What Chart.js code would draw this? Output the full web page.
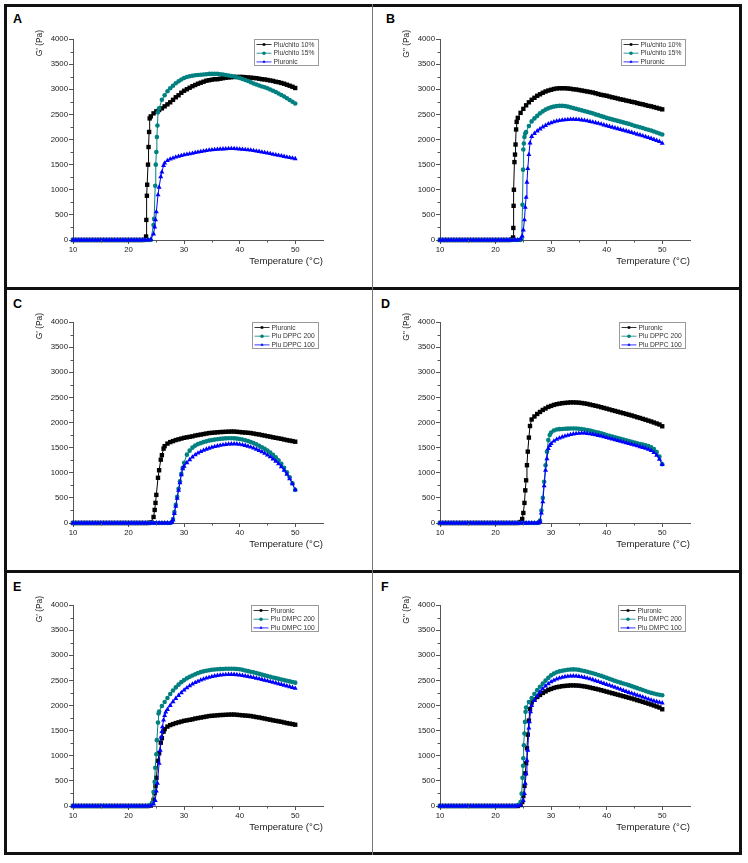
<!DOCTYPE html>
<html>
<head>
<meta charset="utf-8">
<script src="https://cdn.jsdelivr.net/npm/chart.js@4.4.1/dist/chart.umd.min.js"></script>
<style>
  html, body { margin: 0; padding: 0; background: #fff; }
  body { width: 748px; height: 863px; position: relative; overflow: hidden; font-family: "Liberation Sans", Arial, sans-serif; }
  .frame { position: absolute; left: 4px; top: 4px; width: 732px; height: 845px; border: 3px solid #111; }
  .hline { position: absolute; left: 4px; width: 738px; height: 3px; background: #111; }
  .vline { position: absolute; left: 372px; top: 4px; width: 1px; height: 851px; background: #777; }
  .letter { position: absolute; font-weight: bold; font-size: 12.5px; line-height: 12px; color: #000; }
  canvas { position: absolute; }
</style>
</head>
<body>
<div class="frame"></div>
<div class="hline" style="top:287px"></div>
<div class="hline" style="top:570px"></div>
<div class="vline"></div>
<div class="letter" style="left:13px;top:13.4px">A</div>
<div class="letter" style="left:386px;top:13.4px">B</div>
<div class="letter" style="left:13px;top:298.4px">C</div>
<div class="letter" style="left:381px;top:298.4px">D</div>
<div class="letter" style="left:13px;top:581.4px">E</div>
<div class="letter" style="left:381px;top:581.4px">F</div>
<canvas id="cA" width="366" height="283" style="left:7px;top:5px"></canvas>
<canvas id="cB" width="366" height="283" style="left:374px;top:5px"></canvas>
<canvas id="cC" width="366" height="283" style="left:7px;top:288px"></canvas>
<canvas id="cD" width="366" height="283" style="left:374px;top:288px"></canvas>
<canvas id="cE" width="366" height="283" style="left:7px;top:571px"></canvas>
<canvas id="cF" width="366" height="283" style="left:374px;top:571px"></canvas>
<script>
// ---------------- DATA ----------------
const xTicks = [10, 20, 30, 40, 50];
const xMinor = [15, 25, 35, 45];
const yTicks = [0, 500, 1000, 1500, 2000, 2500, 3000, 3500, 4000];
const yMinor = [250, 750, 1250, 1750, 2250, 2750, 3250, 3750];
const xTitle = 'Temperature (°C)';
const yTitleGp = "G' (Pa)";
const yTitleGpp = 'G" (Pa)';

// temperatures before gelation (all samples ~0 Pa)
const preGelT = [10, 10.5, 11, 11.5, 12, 12.5, 13, 13.5, 14, 14.5, 15, 15.5, 16, 16.5, 17, 17.5, 18, 18.5, 19, 19.5, 20, 20.5, 21, 21.5, 22, 22.5];
const preGelG = [0, 0, 0, 0, 0, 0, 0, 0, 0, 0, 0, 0, 0, 0, 0, 0, 0, 0, 0, 0, 0, 0, 0, 0, 0, 0];
// temperatures from 23 to 50 °C
const gelT = [23, 23.5, 24, 24.5, 25, 25.5, 26, 26.5, 27, 27.5,
              28, 28.5, 29, 29.5, 30, 30.5, 31, 31.5, 32, 32.5,
              33, 33.5, 34, 34.5, 35, 35.5, 36, 36.5, 37, 37.5,
              38, 38.5, 39, 39.5, 40, 40.5, 41, 41.5, 42, 42.5,
              43, 43.5, 44, 44.5, 45, 45.5, 46, 46.5, 47, 47.5,
              48, 48.5, 49, 49.5, 50];

// Pluronic G'
const pluronicGp = [0, 0, 10, 120, 560, 1050, 1350, 1530, 1580, 1610,
  1630, 1650, 1665, 1680, 1695, 1705, 1715, 1725, 1740, 1750,
  1760, 1770, 1780, 1790, 1795, 1800, 1805, 1810, 1812, 1815,
  1818, 1820, 1820, 1815, 1810, 1805, 1800, 1795, 1790, 1780,
  1770, 1762, 1750, 1740, 1728, 1718, 1705, 1695, 1685, 1675,
  1662, 1650, 1640, 1630, 1618];
const pluronicGpExtraT = [24.7, 24.85, 25.3, 25.8, 26.3];
const pluronicGpExtraG = [260, 400, 900, 1260, 1480];

// Pluronic G''
const pluronicGpp = [0, 0, 0, 20, 200, 850, 1700, 2060, 2120, 2170,
  2210, 2250, 2280, 2310, 2330, 2350, 2365, 2375, 2385, 2390,
  2395, 2400, 2400, 2398, 2395, 2388, 2380, 2370, 2358, 2345,
  2333, 2320, 2305, 2290, 2275, 2260, 2245, 2230, 2215, 2200,
  2185, 2170, 2155, 2140, 2123, 2105, 2090, 2072, 2055, 2037,
  2020, 2000, 1980, 1960, 1925];
const pluronicGppExtraT = [24.8, 25.2, 25.35, 25.65, 25.8, 26.2];
const pluronicGppExtraG = [80, 400, 650, 1150, 1420, 1930];

// Plu/chito 10% G'
const chito10Gp = [5, 1500, 2460, 2520, 2560, 2590, 2620, 2660, 2700, 2740,
  2790, 2840, 2880, 2930, 2970, 3000, 3030, 3060, 3085, 3110,
  3130, 3150, 3170, 3180, 3190, 3200, 3200, 3210, 3220, 3230,
  3235, 3240, 3245, 3245, 3245, 3245, 3240, 3235, 3230, 3225,
  3220, 3210, 3200, 3195, 3185, 3175, 3165, 3150, 3140, 3125,
  3110, 3090, 3070, 3050, 3025];
const chito10GpExtraT = [23.15, 23.2, 23.3, 23.35, 23.6, 23.7, 23.8];
const chito10GpExtraG = [70, 400, 880, 1100, 1850, 2150, 2420];

// Plu/chito 15% G'
const chito15Gp = [0, 0, 0, 300, 1750, 2620, 2790, 2880, 2960, 3020,
  3070, 3120, 3160, 3195, 3225, 3245, 3260, 3270, 3280, 3285,
  3290, 3295, 3300, 3305, 3305, 3305, 3305, 3300, 3295, 3285,
  3275, 3265, 3255, 3240, 3225, 3205, 3185, 3165, 3140, 3115,
  3095, 3075, 3055, 3040, 3020, 2995, 2970, 2945, 2915, 2885,
  2855, 2820, 2785, 2750, 2715];
const chito15GpExtraT = [24.6, 24.8, 24.9, 25.1, 25.2, 25.3];
const chito15GpExtraG = [420, 1080, 1500, 2050, 2280, 2540];

// Plu/chito 10% G''
const chito10Gpp = [10, 1700, 2430, 2530, 2610, 2680, 2740, 2790, 2830, 2870,
  2900, 2930, 2955, 2975, 2990, 3005, 3015, 3020, 3020, 3020,
  3015, 3010, 3000, 2995, 2985, 2975, 2965, 2955, 2945, 2935,
  2920, 2905, 2890, 2880, 2870, 2855, 2840, 2828, 2815, 2800,
  2790, 2775, 2765, 2750, 2740, 2725, 2710, 2700, 2685, 2670,
  2660, 2645, 2630, 2615, 2600];
const chito10GppExtraT = [23.15, 23.2, 23.25, 23.3, 23.4, 23.6, 23.7, 23.8];
const chito10GppExtraG = [50, 240, 680, 1000, 1550, 1900, 2200, 2350];

// Plu/chito 15% G''
const chito15Gpp = [0, 0, 0, 0, 1800, 2150, 2270, 2360, 2420, 2470,
  2520, 2560, 2595, 2620, 2640, 2655, 2665, 2670, 2670, 2665,
  2655, 2640, 2625, 2610, 2595, 2580, 2565, 2550, 2535, 2520,
  2500, 2485, 2465, 2450, 2430, 2415, 2400, 2385, 2370, 2355,
  2340, 2325, 2310, 2295, 2275, 2260, 2245, 2230, 2210, 2195,
  2180, 2160, 2140, 2120, 2100];
const chito15GppExtraT = [24.7, 24.85, 24.95, 25.1, 25.2, 25.35];
const chito15GppExtraG = [30, 700, 1400, 1920, 2050, 2120];

// Plu DPPC 200 G'
const dppc200Gp = [0, 0, 0, 0, 0, 0, 0, 0, 0, 0,
  80, 360, 680, 980, 1200, 1360, 1440, 1500, 1540, 1570,
  1590, 1610, 1625, 1640, 1650, 1660, 1668, 1675, 1680, 1685,
  1688, 1688, 1685, 1680, 1672, 1662, 1648, 1632, 1612, 1590,
  1565, 1538, 1508, 1475, 1440, 1400, 1355, 1305, 1250, 1180,
  1100, 1010, 910, 790, 660];
const dppc200GpExtraT = [27.8, 28.25, 28.75, 29.25, 29.75];
const dppc200GpExtraG = [20, 220, 520, 830, 1100];

// Plu DPPC 100 G'
const dppc100Gp = [0, 0, 0, 0, 0, 0, 0, 0, 0, 0,
  60, 330, 650, 960, 1130, 1200, 1260, 1310, 1355, 1390,
  1420, 1445, 1468, 1488, 1505, 1520, 1533, 1545, 1555, 1563,
  1570, 1573, 1575, 1572, 1565, 1555, 1543, 1528, 1510, 1490,
  1468, 1443, 1415, 1385, 1352, 1315, 1275, 1230, 1180, 1120,
  1050, 970, 880, 780, 660];
const dppc100GpExtraT = [27.8, 28.25, 28.75, 29.25, 29.75];
const dppc100GpExtraG = [15, 190, 490, 800, 1080];

// Plu DPPC 200 G''
const dppc200Gpp = [0, 0, 0, 0, 0, 0, 0, 0, 0, 0,
  50, 500, 1150, 1650, 1800, 1840, 1860, 1868, 1872, 1876,
  1878, 1880, 1882, 1880, 1876, 1870, 1860, 1850, 1838, 1825,
  1812, 1798, 1783, 1768, 1752, 1736, 1720, 1705, 1690, 1675,
  1660, 1645, 1630, 1615, 1600, 1585, 1572, 1560, 1548, 1530,
  1505, 1470, 1410, 1320, 1170];
const dppc200GppExtraT = [27.8, 28.25, 28.75, 29.25, 29.75];
const dppc200GppExtraG = [10, 250, 820, 1420, 1750];

// Plu DPPC 100 G''
const dppc100Gpp = [0, 0, 0, 0, 0, 0, 0, 0, 0, 0,
  30, 420, 1050, 1480, 1580, 1630, 1665, 1690, 1712, 1730,
  1745, 1760, 1772, 1780, 1785, 1788, 1788, 1782, 1775, 1765,
  1755, 1742, 1728, 1714, 1700, 1685, 1670, 1655, 1640, 1625,
  1610, 1595, 1580, 1565, 1550, 1535, 1518, 1502, 1485, 1465,
  1440, 1400, 1345, 1270, 1165];
const dppc100GppExtraT = [27.8, 28.25, 28.75, 29.25, 29.75];
const dppc100GppExtraG = [5, 200, 740, 1280, 1540];

// Plu DMPC 200 G'
const dmpc200Gp = [0, 0, 20, 280, 1030, 1880, 1990, 2070, 2150, 2230,
  2300, 2360, 2415, 2465, 2505, 2540, 2570, 2598, 2622, 2645,
  2665, 2680, 2692, 2702, 2710, 2716, 2720, 2724, 2727, 2730,
  2732, 2732, 2730, 2726, 2720, 2710, 2698, 2685, 2672, 2660,
  2645, 2630, 2615, 2600, 2585, 2572, 2558, 2545, 2530, 2518,
  2505, 2492, 2480, 2468, 2455];
const dmpc200GpExtraT = [24.2, 24.7, 24.8, 25.1, 25.3, 25.4];
const dmpc200GpExtraG = [60, 480, 760, 1310, 1660, 1840];

// Plu DMPC 100 G'
const dmpc100Gp = [0, 0, 5, 40, 300, 850, 1480, 1800, 1920, 2000,
  2075, 2140, 2200, 2255, 2305, 2350, 2390, 2425, 2455, 2482,
  2505, 2525, 2545, 2560, 2575, 2587, 2597, 2605, 2610, 2615,
  2618, 2618, 2617, 2612, 2605, 2597, 2588, 2578, 2568, 2556,
  2543, 2530, 2517, 2503, 2490, 2476, 2462, 2448, 2433, 2418,
  2403, 2388, 2373, 2358, 2340];
const dmpc100GpExtraT = [24.8, 25.2, 25.7, 25.9, 26.1, 26.3, 26.7];
const dmpc100GpExtraG = [110, 450, 1110, 1375, 1575, 1708, 1870];

// Plu DMPC 200 G''
const dmpc200Gpp = [0, 0, 20, 80, 950, 1960, 2070, 2150, 2230, 2305,
  2372, 2435, 2495, 2550, 2600, 2635, 2662, 2680, 2692, 2702,
  2710, 2715, 2718, 2715, 2708, 2698, 2686, 2672, 2658, 2642,
  2626, 2608, 2590, 2570, 2550, 2530, 2510, 2490, 2472, 2455,
  2438, 2422, 2405, 2385, 2365, 2345, 2326, 2308, 2290, 2270,
  2252, 2238, 2224, 2214, 2205];
const dmpc200GppExtraT = [24.7, 24.85, 24.95, 25.1, 25.2, 25.3, 25.4];
const dmpc200GppExtraG = [246, 560, 800, 1209, 1442, 1674, 1874];

// Plu DMPC 100 G''
const dmpc100Gpp = [0, 0, 0, 20, 110, 640, 1550, 2000, 2100, 2190,
  2270, 2330, 2385, 2432, 2470, 2500, 2525, 2545, 2560, 2572,
  2580, 2585, 2587, 2585, 2578, 2570, 2558, 2545, 2530, 2512,
  2493, 2475, 2456, 2438, 2419, 2400, 2380, 2360, 2340, 2320,
  2300, 2280, 2260, 2242, 2224, 2205, 2186, 2166, 2146, 2126,
  2106, 2090, 2075, 2063, 2050];
const dmpc100GppExtraT = [25.2, 25.35, 25.65, 25.8, 26.1, 26.3];
const dmpc100GppExtraG = [246, 450, 910, 1110, 1674, 1874];

const legendA = ['Plu/chito 10%', 'Plu/chito 15%', 'Pluronic'];
const legendC = ['Pluronic', 'Plu DPPC 200', 'Plu DPPC 100'];
const legendE = ['Pluronic', 'Plu DMPC 200', 'Plu DMPC 100'];

// ---------------- STYLE ----------------
const FONT = '"Liberation Sans", Arial, Helvetica, sans-serif';
const AXIS = '#555';
const seriesStyle = [
  { color: '#000000', pointStyle: 'rect', radius: 3.1 },
  { color: '#008080', pointStyle: 'circle', radius: 2.3 },
  { color: '#0000ff', pointStyle: 'triangle', radius: 2.9 }
];

function buildSeries(grid, exT, exG) {
  const pts = [];
  preGelT.forEach((t, i) => pts.push({ x: t, y: preGelG[i] }));
  gelT.forEach((t, i) => pts.push({ x: t, y: grid[i] }));
  exT.forEach((t, i) => pts.push({ x: t, y: exG[i] }));
  pts.sort((a, b) => a.x - b.x);
  return pts;
}

const panels = [
  { id: 'cA', yTitle: yTitleGp, labels: legendA, series: [
    [chito10Gp, chito10GpExtraT, chito10GpExtraG],
    [chito15Gp, chito15GpExtraT, chito15GpExtraG],
    [pluronicGp, pluronicGpExtraT, pluronicGpExtraG]] },
  { id: 'cB', yTitle: yTitleGpp, labels: legendA, series: [
    [chito10Gpp, chito10GppExtraT, chito10GppExtraG],
    [chito15Gpp, chito15GppExtraT, chito15GppExtraG],
    [pluronicGpp, pluronicGppExtraT, pluronicGppExtraG]] },
  { id: 'cC', yTitle: yTitleGp, labels: legendC, series: [
    [pluronicGp, pluronicGpExtraT, pluronicGpExtraG],
    [dppc200Gp, dppc200GpExtraT, dppc200GpExtraG],
    [dppc100Gp, dppc100GpExtraT, dppc100GpExtraG]] },
  { id: 'cD', yTitle: yTitleGpp, labels: legendC, series: [
    [pluronicGpp, pluronicGppExtraT, pluronicGppExtraG],
    [dppc200Gpp, dppc200GppExtraT, dppc200GppExtraG],
    [dppc100Gpp, dppc100GppExtraT, dppc100GppExtraG]] },
  { id: 'cE', yTitle: yTitleGp, labels: legendE, series: [
    [pluronicGp, pluronicGpExtraT, pluronicGpExtraG],
    [dmpc200Gp, dmpc200GpExtraT, dmpc200GpExtraG],
    [dmpc100Gp, dmpc100GpExtraT, dmpc100GpExtraG]] },
  { id: 'cF', yTitle: yTitleGpp, labels: legendE, series: [
    [pluronicGpp, pluronicGppExtraT, pluronicGppExtraG],
    [dmpc200Gpp, dmpc200GppExtraT, dmpc200GppExtraG],
    [dmpc100Gpp, dmpc100GppExtraT, dmpc100GppExtraG]] }
];

// ---------------- PLUGINS ----------------
function drawMarker(ctx, style, x, y, r) {
  ctx.beginPath();
  if (style === 'rect') {
    const s = r * Math.SQRT1_2;
    ctx.rect(x - s, y - s, 2 * s, 2 * s);
  } else if (style === 'triangle') {
    ctx.moveTo(x, y - r);
    ctx.lineTo(x + r * 0.866, y + r * 0.5);
    ctx.lineTo(x - r * 0.866, y + r * 0.5);
    ctx.closePath();
  } else {
    ctx.arc(x, y, r, 0, Math.PI * 2);
  }
  ctx.fill();
}

const minorTicks = {
  id: 'minorTicks',
  afterDraw(chart) {
    const { ctx, chartArea, scales } = chart;
    ctx.save();
    ctx.strokeStyle = AXIS;
    ctx.lineWidth = 1;
    ctx.beginPath();
    xMinor.forEach(v => {
      const px = Math.round(scales.x.getPixelForValue(v)) + 0.5;
      ctx.moveTo(px, chartArea.bottom);
      ctx.lineTo(px, chartArea.bottom + 2.5);
    });
    yMinor.forEach(v => {
      const py = Math.round(scales.y.getPixelForValue(v)) + 0.5;
      ctx.moveTo(chartArea.left, py);
      ctx.lineTo(chartArea.left - 2.5, py);
    });
    ctx.stroke();
    ctx.restore();
  }
};

const yTitlePlugin = {
  id: 'yTitle',
  afterDraw(chart, args, opts) {
    const { ctx, chartArea } = chart;
    ctx.save();
    ctx.translate(chartArea.left - 33, chartArea.top - 9);
    ctx.rotate(-Math.PI / 2);
    ctx.font = '8.4px ' + FONT;
    ctx.fillStyle = '#222';
    ctx.textAlign = 'right';
    ctx.textBaseline = 'middle';
    ctx.fillText(opts.text, 0, 0);
    ctx.restore();
  }
};

const boxLegend = {
  id: 'boxLegend',
  afterDraw(chart) {
    const { ctx, chartArea } = chart;
    const ds = chart.data.datasets;
    ctx.save();
    ctx.font = '6.7px ' + FONT;
    const tw = Math.max(...ds.map(d => ctx.measureText(d.label).width));
    const w = Math.round(19 + tw + 4);
    const rowH = 8.7;
    const h = 26;
    const x0 = Math.round(chartArea.right - 5 - w) + 0.5;
    const y0 = Math.round(chartArea.top) + 0.5;
    ctx.fillStyle = '#fff';
    ctx.fillRect(x0, y0, w, h);
    ctx.strokeStyle = '#9a9a9a';
    ctx.lineWidth = 1;
    ctx.strokeRect(x0, y0, w, h);
    ds.forEach((d, i) => {
      const cy = y0 + 5 + i * rowH;
      ctx.strokeStyle = d.borderColor;
      ctx.lineWidth = 0.8;
      ctx.beginPath();
      ctx.moveTo(x0 + 2, cy);
      ctx.lineTo(x0 + 17, cy);
      ctx.stroke();
      ctx.fillStyle = d.borderColor;
      drawMarker(ctx, d.pointStyle, x0 + 9.5, cy, 1.8);
      ctx.fillStyle = '#333';
      ctx.textAlign = 'left';
      ctx.textBaseline = 'middle';
      ctx.fillText(d.label, x0 + 19, cy + 0.3);
    });
    ctx.restore();
  }
};

// ---------------- CHARTS ----------------
panels.forEach(p => {
  const datasets = p.series.map((s, i) => ({
    label: p.labels[i],
    data: buildSeries(s[0], s[1], s[2]),
    showLine: true,
    borderColor: seriesStyle[i].color,
    backgroundColor: seriesStyle[i].color,
    borderWidth: 1,
    pointStyle: seriesStyle[i].pointStyle,
    pointRadius: seriesStyle[i].radius,
    pointBorderWidth: 0,
    pointBackgroundColor: seriesStyle[i].color,
    tension: 0,
    clip: false,
    order: 2 - i
  }));
  new Chart(document.getElementById(p.id), {
    type: 'scatter',
    data: { datasets },
    plugins: [minorTicks, yTitlePlugin, boxLegend],
    options: {
      responsive: false,
      maintainAspectRatio: false,
      animation: false,
      events: [],
      layout: { padding: { left: 26, top: 34, right: 50, bottom: 13 } },
      plugins: {
        legend: { display: false },
        tooltip: { enabled: false },
        title: { display: false },
        yTitle: { text: p.yTitle }
      },
      scales: {
        x: {
          type: 'linear', min: 10, max: 55,
          afterBuildTicks: sc => { sc.ticks = xTicks.map(v => ({ value: v })); },
          afterFit: sc => { sc.height = 35; },
          ticks: { color: '#222', font: { size: 7.8, family: FONT }, padding: 1, maxRotation: 0, autoSkip: false,
                   callback: v => String(v) },
          grid: { drawOnChartArea: false, drawTicks: true, tickLength: 4, tickColor: AXIS },
          border: { display: true, color: AXIS, width: 1 },
          title: { display: true, text: xTitle, align: 'end', color: '#222',
                   font: { size: 9.6, family: FONT }, padding: { top: 0, bottom: 8.3 } }
        },
        y: {
          type: 'linear', min: 0, max: 4000,
          afterBuildTicks: sc => { sc.ticks = yTicks.map(v => ({ value: v })); },
          afterFit: sc => { sc.width = 40; },
          ticks: { color: '#222', font: { size: 7.8, family: FONT }, padding: 1, autoSkip: false,
                   callback: v => String(v) },
          grid: { drawOnChartArea: false, drawTicks: true, tickLength: 4, tickColor: AXIS },
          border: { display: true, color: AXIS, width: 1 }
        }
      }
    }
  });
});
</script>
</body>
</html>
